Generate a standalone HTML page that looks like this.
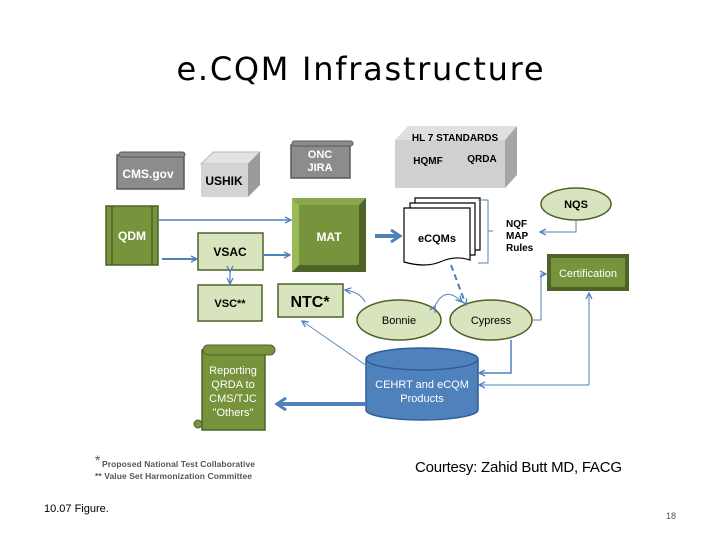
<!DOCTYPE html>
<html><head><meta charset="utf-8"><style>
body{margin:0;background:#fff}
svg{display:block;font-family:"Liberation Sans",Arial,sans-serif}
</style></head><body>
<svg width="720" height="540" viewBox="0 0 720 540" xmlns="http://www.w3.org/2000/svg">
<defs>
<marker id="a" markerWidth="8" markerHeight="8" refX="7" refY="4" orient="auto" markerUnits="userSpaceOnUse"><path d="M1,1 L7,4 L1,7" fill="none" stroke="#4f81bd" stroke-width="1.3"/></marker>
<marker id="b" markerWidth="14" markerHeight="14" refX="11" refY="7" orient="auto" markerUnits="userSpaceOnUse"><path d="M2,1 L11,7 L2,13" fill="none" stroke="#4f81bd" stroke-width="3"/></marker>
</defs>
<text x="360" y="80" font-size="32" text-anchor="middle" fill="#000" font-family="DejaVu Sans, sans-serif" textLength="367">e.CQM Infrastructure</text>

<!-- CMS.gov scroll -->
<rect x="117" y="155" width="67" height="34" fill="#8c8c8c" stroke="#5a5a5a" stroke-width="1.5"/>
<rect x="119" y="152" width="66" height="5" rx="2.5" fill="#8c8c8c" stroke="#5a5a5a"/>
<text x="148" y="178" font-size="12" font-weight="bold" fill="#fff" text-anchor="middle">CMS.gov</text>
<!-- USHIK -->
<polygon points="201,164 213,152 260,152 248,164" fill="#e3e3e3" stroke="#bbb"/>
<polygon points="248,164 260,152 260,185 248,197" fill="#9a9a9a"/>
<rect x="201" y="164" width="47" height="33" fill="#d4d4d4"/>
<text x="224" y="185" font-size="12" font-weight="bold" text-anchor="middle">USHIK</text>
<!-- ONC JIRA -->
<rect x="291" y="145" width="59" height="33" fill="#8c8c8c" stroke="#5a5a5a" stroke-width="1.5"/>
<rect x="292" y="141" width="61" height="5" rx="2.5" fill="#8c8c8c" stroke="#5a5a5a"/>
<text x="320" y="158" font-size="11" font-weight="bold" fill="#fff" text-anchor="middle">ONC</text>
<text x="320" y="171" font-size="11" font-weight="bold" fill="#fff" text-anchor="middle">JIRA</text>
<!-- HL7 -->
<polygon points="395,140 408,126 517,126 505,140" fill="#e0e0e0"/>
<polygon points="505,140 517,126 517,175 505,188" fill="#a5a5a5"/>
<rect x="395" y="140" width="110" height="48" fill="#d0d0d0"/>
<text x="455" y="141" font-size="10" font-weight="bold" text-anchor="middle">HL 7 STANDARDS</text>
<text x="428" y="164" font-size="10" font-weight="bold" text-anchor="middle">HQMF</text>
<text x="482" y="162" font-size="10" font-weight="bold" text-anchor="middle">QRDA</text>

<!-- QDM -->
<rect x="106" y="206" width="52" height="59" fill="#77933c" stroke="#4f6228" stroke-width="1.5"/>
<line x1="112" y1="206" x2="112" y2="265" stroke="#4f6228" stroke-width="1.5"/>
<line x1="152" y1="206" x2="152" y2="265" stroke="#4f6228" stroke-width="1.5"/>
<text x="132" y="240" font-size="12" font-weight="bold" fill="#fff" text-anchor="middle">QDM</text>
<!-- VSAC -->
<rect x="198" y="233" width="65" height="37" fill="#d7e4bd" stroke="#4f6228" stroke-width="1.5"/>
<text x="230" y="256" font-size="12" font-weight="bold" text-anchor="middle">VSAC</text>
<rect x="198" y="285" width="64" height="36" fill="#d7e4bd" stroke="#4f6228" stroke-width="1.5"/>
<text x="230" y="307" font-size="11" font-weight="bold" text-anchor="middle">VSC**</text>
<!-- MAT -->
<rect x="292" y="198" width="74" height="74" fill="#4f6228"/>
<polygon points="292,198 366,198 359,205 299,205" fill="#8aa64e"/>
<polygon points="292,198 299,205 299,265 292,272" fill="#9bbb59"/>
<rect x="299" y="205" width="60" height="60" fill="#77933c"/>
<text x="329" y="241" font-size="12" font-weight="bold" fill="#fff" text-anchor="middle">MAT</text>
<!-- NTC -->
<rect x="278" y="284" width="65" height="33" fill="#d7e4bd" stroke="#4f6228" stroke-width="1.5"/>
<text x="310" y="307" font-size="16" font-weight="bold" text-anchor="middle">NTC*</text>

<!-- eCQMs stack -->
<path d="M415,198 H480 V250 H415Z" fill="#fff" stroke="#000" stroke-width="1.2"/>
<path d="M410,203 H475 V255 H410Z" fill="#fff" stroke="#000" stroke-width="1.2"/>
<path d="M404,208 H470 V260 Q455,255 440,262 Q425,268 404,262Z" fill="#fff" stroke="#000" stroke-width="1.2"/>
<text x="437" y="242" font-size="11" font-weight="bold" text-anchor="middle">eCQMs</text>
<path d="M478,200 H488 V263 H478 M488,231 H493" fill="none" stroke="#4f81bd" stroke-width="1"/>
<text x="506" y="227" font-size="10" font-weight="bold">NQF</text>
<text x="506" y="239" font-size="10" font-weight="bold">MAP</text>
<text x="506" y="251" font-size="10" font-weight="bold">Rules</text>
<!-- NQS -->
<ellipse cx="576" cy="204" rx="35" ry="16" fill="#d7e4bd" stroke="#4f6228" stroke-width="1.5"/>
<text x="576" y="208" font-size="11" font-weight="bold" text-anchor="middle">NQS</text>
<path d="M576,220 V232 H540" fill="none" stroke="#4f81bd" marker-end="url(#a)"/>
<!-- Certification -->
<rect x="547" y="254" width="82" height="37" fill="#4f6228"/>
<rect x="551" y="258" width="74" height="29" fill="#77933c"/>
<text x="588" y="277" font-size="11" fill="#fff" text-anchor="middle">Certification</text>

<!-- Bonnie & Cypress -->
<ellipse cx="399" cy="320" rx="42" ry="20" fill="#d7e4bd" stroke="#4f6228" stroke-width="1.5"/>
<text x="399" y="324" font-size="11" text-anchor="middle">Bonnie</text>
<ellipse cx="491" cy="320" rx="41" ry="20" fill="#d7e4bd" stroke="#4f6228" stroke-width="1.5"/>
<text x="491" y="324" font-size="11" text-anchor="middle">Cypress</text>

<!-- CEHRT cylinder -->
<path d="M366,359 V410 A56,10 0 0 0 478,410 V359" fill="#4f81bd" stroke="#2f5f9a" stroke-width="1.5"/>
<ellipse cx="422" cy="359" rx="56" ry="11" fill="#4f81bd" stroke="#2f5f9a" stroke-width="1.5"/>
<text x="422" y="388" font-size="11" fill="#fff" text-anchor="middle">CEHRT and eCQM</text>
<text x="422" y="402" font-size="11" fill="#fff" text-anchor="middle">Products</text>

<!-- Reporting scroll -->
<rect x="202" y="350" width="63" height="80" fill="#77933c" stroke="#4f6228" stroke-width="1.5"/>
<rect x="203" y="345" width="72" height="10" rx="5" fill="#77933c" stroke="#4f6228"/>
<circle cx="198" cy="424" r="4" fill="#77933c" stroke="#4f6228"/>
<text x="233" y="374" font-size="11" fill="#fff" text-anchor="middle">Reporting</text>
<text x="233" y="388" font-size="11" fill="#fff" text-anchor="middle">QRDA to</text>
<text x="233" y="402" font-size="11" fill="#fff" text-anchor="middle">CMS/TJC</text>
<text x="233" y="416" font-size="11" fill="#fff" text-anchor="middle">"Others"</text>

<!-- connectors -->
<line x1="158" y1="220" x2="291" y2="220" stroke="#4f81bd" stroke-width="1.5" marker-end="url(#a)"/>
<line x1="162" y1="259" x2="197" y2="259" stroke="#4f81bd" stroke-width="2" marker-end="url(#a)"/>
<line x1="263" y1="255" x2="290" y2="255" stroke="#4f81bd" stroke-width="2" marker-end="url(#a)"/>
<line x1="230" y1="272" x2="230" y2="284" stroke="#4f81bd" stroke-width="1.2" marker-end="url(#a)" marker-start="url(#a)"/>
<line x1="375" y1="236" x2="400" y2="236" stroke="#4f81bd" stroke-width="4" marker-end="url(#b)"/>
<line x1="451" y1="265" x2="466" y2="305" stroke="#4f81bd" stroke-width="2" stroke-dasharray="6,4" marker-end="url(#a)"/>
<path d="M435,306 Q445,285 462,302" fill="none" stroke="#4f81bd" marker-end="url(#a)" marker-start="url(#a)"/>
<path d="M365,302 Q360,292 345,290" fill="none" stroke="#4f81bd" marker-end="url(#a)"/>
<line x1="370" y1="368" x2="302" y2="321" stroke="#4f81bd" stroke-width="0.8" marker-end="url(#a)"/>
<path d="M533,320 H541 V274 H546" fill="none" stroke="#4f81bd" marker-end="url(#a)"/>
<path d="M511,340 V373 H479" fill="none" stroke="#4f81bd" stroke-width="1.5" marker-end="url(#a)"/>
<path d="M589,385 H479" fill="none" stroke="#4f81bd" marker-end="url(#a)"/>
<line x1="589" y1="385" x2="589" y2="293" stroke="#4f81bd" marker-end="url(#a)"/>
<line x1="366" y1="404" x2="277" y2="404" stroke="#4f81bd" stroke-width="4" marker-end="url(#b)"/>

<!-- footnotes -->
<text x="95" y="465" font-size="14" fill="#555">*</text>
<text x="102" y="467" font-size="8.5" font-weight="bold" fill="#555" textLength="153">Proposed National Test Collaborative</text>
<text x="95" y="479" font-size="8.5" font-weight="bold" fill="#555" textLength="157">** Value Set Harmonization Committee</text>
<text x="415" y="472" font-size="15" fill="#000" textLength="207">Courtesy: Zahid Butt MD, FACG</text>
<text x="44" y="512" font-size="11" fill="#000">10.07 Figure.</text>
<text x="666" y="519" font-size="9" fill="#555">18</text>
</svg>
</body></html>
